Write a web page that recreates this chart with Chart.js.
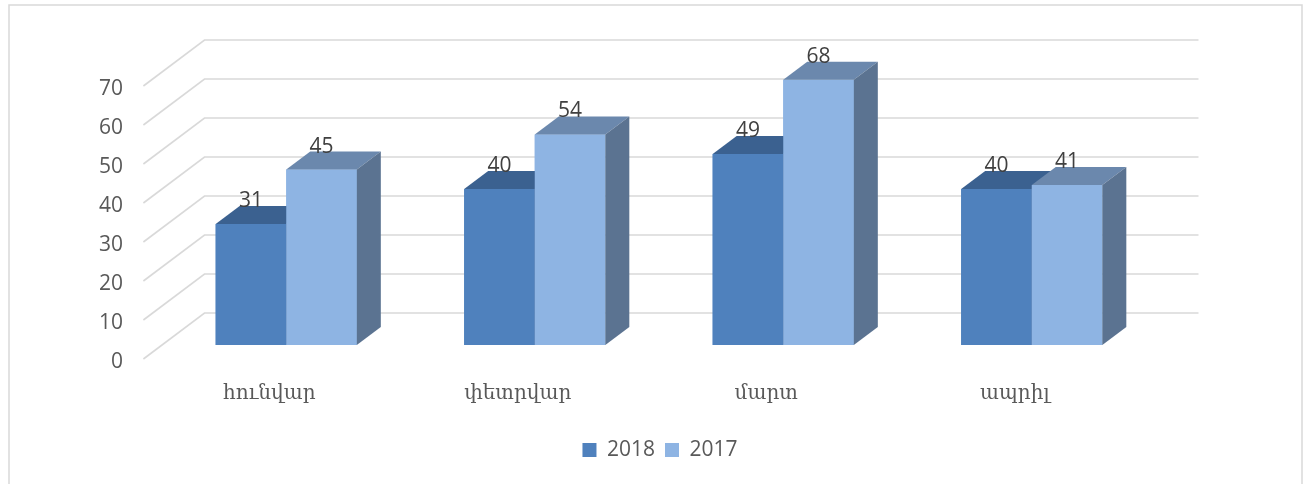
<!DOCTYPE html>
<html><head><meta charset="utf-8">
<script src="https://cdn.jsdelivr.net/npm/chart.js@4.4.1/dist/chart.umd.min.js"></script>
<style>html,body{margin:0;padding:0;background:#fff;} canvas{display:block;}</style>
</head><body>
<canvas id="c" width="1308" height="484"></canvas>
<script>
const categories = ['հունվար', 'փետրվար', 'մարտ', 'ապրիլ'];
const seriesNames = ['2018', '2017'];
const values2018 = [31, 40, 49, 40];
const values2017 = [45, 54, 68, 41];
const yTicks = [0, 10, 20, 30, 40, 50, 60, 70];

const frontColors = ['#4F81BD', '#8EB4E3'];
const faceColors = [{top: '#3B6190', side: '#3A5F8C'}, {top: '#6B88AD', side: '#5B7391'}];
const DEPTH = {dx: 24, dy: -18};
const WALL = {dx: 42.5, dy: -32};
const FRONT = {dx: -18.6, dy: 14};

const plugin3d = {
  id: 'threeD',
  afterLayout(chart) {
    // centre the legend under the plot as in the reference
    if (chart.legend) { chart.legend.left = 162; chart.legend.right = 1158; }
  },
  beforeDraw(chart) {
    const ctx = chart.ctx;
    ctx.save();
    ctx.fillStyle = '#fff';
    ctx.fillRect(0, 0, chart.width, chart.height);
    ctx.strokeStyle = '#d9d9d9';
    ctx.lineWidth = 1.5;
    ctx.strokeRect(9, 5, 1293, 520);
    ctx.restore();
  },
  beforeDatasetsDraw(chart) {
    const {ctx, chartArea: a, scales: {y}} = chart;
    ctx.save();
    ctx.strokeStyle = '#d9d9d9';
    ctx.lineWidth = 1.6;
    yTicks.forEach(v => {
      const py = y.getPixelForValue(v);
      ctx.beginPath();
      ctx.moveTo(a.left + FRONT.dx, py + FRONT.dy);
      ctx.lineTo(a.left + WALL.dx, py + WALL.dy);
      ctx.lineTo(a.right + WALL.dx, py + WALL.dy);
      ctx.stroke();
    });
    ctx.restore();
  },
  afterDatasetsDraw(chart) {
    const ctx = chart.ctx;
    // repaint the bars back-to-front (2018 then 2017) with their top and side faces
    chart.data.datasets.forEach((ds, i) => {
      chart.getDatasetMeta(i).data.forEach(bar => {
        bar.draw(ctx);
        const {x, y, base, width} = bar.getProps(['x', 'y', 'base', 'width'], true);
        const l = x - width / 2, r = x + width / 2;
        ctx.save();
        ctx.fillStyle = faceColors[i].top;
        ctx.beginPath();
        ctx.moveTo(l, y); ctx.lineTo(r, y);
        ctx.lineTo(r + DEPTH.dx, y + DEPTH.dy); ctx.lineTo(l + DEPTH.dx, y + DEPTH.dy);
        ctx.closePath(); ctx.fill();
        ctx.fillStyle = faceColors[i].side;
        ctx.beginPath();
        ctx.moveTo(r, y); ctx.lineTo(r + DEPTH.dx, y + DEPTH.dy);
        ctx.lineTo(r + DEPTH.dx, base + DEPTH.dy); ctx.lineTo(r, base);
        ctx.closePath(); ctx.fill();
        ctx.restore();
      });
    });
    ctx.save();
    ctx.font = '21px "Open Sans"';
    ctx.fillStyle = '#404040';
    ctx.textAlign = 'center';
    ctx.textBaseline = 'alphabetic';
    chart.data.datasets.forEach((ds, i) => {
      chart.getDatasetMeta(i).data.forEach((bar, j) => {
        const {x, y} = bar.getProps(['x', 'y'], true);
        ctx.fillText(String(ds.data[j]), x, y + DEPTH.dy + 1);
      });
    });
    ctx.restore();
  }
};

new Chart(document.getElementById('c'), {
  type: 'bar',
  data: {
    labels: categories,
    datasets: [
      {label: seriesNames[0], data: values2018, backgroundColor: frontColors[0], borderWidth: 0},
      {label: seriesNames[1], data: values2017, backgroundColor: frontColors[1], borderWidth: 0}
    ]
  },
  options: {
    responsive: false,
    animation: false,
    devicePixelRatio: 1,
    layout: {padding: {left: 95, right: 152, top: 72, bottom: 13.5}},
    plugins: {
      legend: {
        position: 'bottom',
        labels: {boxWidth: 14, boxHeight: 14, padding: 10, color: '#595959', font: {family: 'Open Sans', size: 21}}
      },
      tooltip: {enabled: false}
    },
    datasets: {bar: {categoryPercentage: 0.568, barPercentage: 1}},
    scales: {
      x: {
        grid: {display: false, drawTicks: false},
        border: {display: false},
        ticks: {color: '#595959', font: {family: 'DejaVu Serif', size: 20}, labelOffset: -17, padding: 37},
        afterFit(s) { s.height = 84.5; }
      },
      y: {
        min: 0, max: 70,
        grid: {display: false, drawTicks: false},
        border: {display: false},
        ticks: {stepSize: 10, color: '#595959', font: {family: 'Open Sans', size: 21}, labelOffset: 17, padding: 39},
        afterFit(s) { s.width = 67; }
      }
    }
  },
  plugins: [plugin3d]
});
</script>
</body></html>
